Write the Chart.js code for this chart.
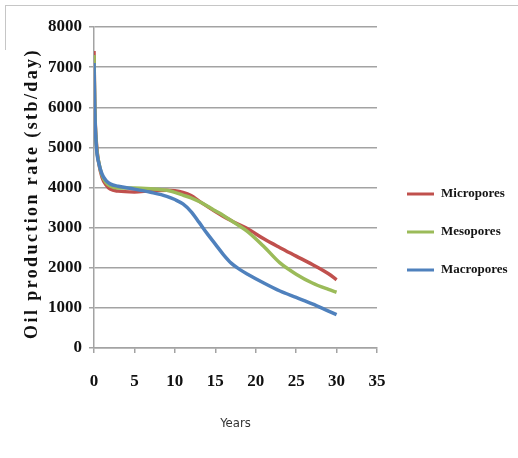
<!DOCTYPE html>
<html>
<head>
<meta charset="utf-8">
<script src="https://cdn.jsdelivr.net/npm/chart.js@4/dist/chart.umd.min.js"></script>
<style>
  html, body { margin: 0; padding: 0; background: #fff; }
  #wrap { position: relative; width: 518px; height: 458px; overflow: hidden; }
  #frame { position: absolute; left: 5px; top: 5px; width: 530px; height: 44px;
           border-top: 1px solid #c6c6c6; border-left: 1px solid #c6c6c6; }
  canvas { position: absolute; left: 0; top: 0; }
</style>
</head>
<body>
<div id="wrap">
  <div id="frame"></div>
  <canvas id="chart" width="518" height="458"></canvas>
</div>
<script>
// Production time (years) and oil rate (stb/day) for each pore class
const years      = [0, 0.1, 0.3, 0.6, 1, 1.5, 2, 3, 5, 7, 9, 10, 11, 12, 13, 14, 15, 16, 17, 18, 19, 21, 23, 25, 27, 29, 30];
const micropores = [7400, 6000, 5100, 4600, 4250, 4060, 3960, 3910, 3890, 3920, 3930, 3920, 3880, 3800, 3660, 3530, 3400, 3280, 3170, 3070, 2970, 2720, 2500, 2290, 2080, 1850, 1700];
const mesopores  = [7300, 5950, 5050, 4620, 4300, 4120, 4040, 3990, 3990, 3970, 3930, 3880, 3810, 3740, 3650, 3540, 3420, 3300, 3170, 3040, 2900, 2530, 2120, 1840, 1620, 1460, 1390];
const macropores = [7100, 5900, 5000, 4600, 4330, 4170, 4090, 4030, 3960, 3880, 3780, 3700, 3590, 3400, 3130, 2850, 2590, 2330, 2110, 1960, 1840, 1620, 1420, 1260, 1100, 920, 830];

const seriesNames  = ['Micropores', 'Mesopores', 'Macropores'];
const seriesColors = ['#c0504d', '#9bbb59', '#4f81bd'];
const xTicks = [0, 5, 10, 15, 20, 25, 30, 35];
const yTicks = [0, 1000, 2000, 3000, 4000, 5000, 6000, 7000, 8000];

const toPoints = vals => years.map((y, i) => ({ x: y, y: vals[i] }));
const seriesValues = [micropores, mesopores, macropores];

const datasets = seriesValues.map((vals, i) => ({
  label: seriesNames[i],
  data: toPoints(vals),
  borderColor: seriesColors[i],
  backgroundColor: seriesColors[i],
  borderWidth: 3.5,
  pointRadius: 0,
  fill: false,
  cubicInterpolationMode: 'monotone',
  order: seriesValues.length - i   // macropores drawn on top
}));

const serif = '"Liberation Serif", "Times New Roman", serif';
const gridGray = '#a3a3a3';

// Legend drawn to the right of the plot, line sample + bold serif label
const sideLegend = {
  id: 'sideLegend',
  afterDraw(chart) {
    const { ctx, chartArea } = chart;
    const x0 = chartArea.right + 30;
    const yStart = 194, gap = 38;
    ctx.save();
    chart.data.datasets.forEach((ds, i) => {
      const y = yStart + i * gap;
      ctx.strokeStyle = ds.borderColor;
      ctx.lineWidth = 3;
      ctx.beginPath();
      ctx.moveTo(x0, y);
      ctx.lineTo(x0 + 27, y);
      ctx.stroke();
      ctx.fillStyle = '#141414';
      ctx.font = 'bold 13px ' + serif;
      ctx.textBaseline = 'middle';
      ctx.textAlign = 'left';
      ctx.fillText(ds.label, x0 + 34, y);
    });
    ctx.restore();
  }
};

// Wider letter spacing for the vertical axis title
const spacedTitle = {
  id: 'spacedTitle',
  beforeDraw(chart) {
    const s = chart.scales.y;
    if (!s || s._spacedTitle) return;
    const orig = s.drawTitle;
    s.drawTitle = function () {
      const ctx = this.ctx;
      ctx.save();
      ctx.letterSpacing = '2.4px';
      ctx.translate(0, 6);
      orig.call(this);
      ctx.restore();
    };
    s._spacedTitle = true;
  }
};

new Chart(document.getElementById('chart'), {
  type: 'line',
  data: { datasets },
  options: {
    responsive: false,
    animation: false,
    layout: { padding: { left: 0, top: 27, right: 141, bottom: 0 } },
    plugins: { legend: { display: false }, tooltip: { enabled: false } },
    scales: {
      x: {
        type: 'linear',
        min: 0, max: 35,
        afterBuildTicks: s => { s.ticks = xTicks.map(v => ({ value: v })); },
        afterFit: s => { s.height = 110; },
        ticks: { color: '#111', padding: 18, callback: v => String(v),
                 font: { family: serif, size: 17, weight: 'bold' } },
        grid: { drawOnChartArea: false, drawTicks: true, tickLength: 5, color: gridGray, lineWidth: 1.5 },
        border: { color: gridGray, width: 1.5 },
        title: {
          display: true, text: 'Years', color: '#333',
          font: { family: '"Liberation Sans Narrow", "DejaVu Sans Condensed", "Liberation Sans", sans-serif', size: 13 },
          padding: { top: 0, bottom: 27 }
        }
      },
      y: {
        min: 0, max: 8000,
        afterBuildTicks: s => { s.ticks = yTicks.map(v => ({ value: v })); },
        afterFit: s => { s.width = 94; },
        ticks: { color: '#111', padding: 7, callback: v => String(v),
                 font: { family: serif, size: 17, weight: 'bold' } },
        grid: { color: gridGray, lineWidth: 1.5, tickLength: 5 },
        border: { color: gridGray, width: 1.5 },
        title: {
          display: true, text: 'Oil production rate (stb/day)', color: '#111',
          font: { family: serif, size: 18, weight: 'bold' },
          padding: { top: 22, bottom: 0 }
        }
      }
    }
  },
  plugins: [spacedTitle, sideLegend]
});
</script>
</body>
</html>
